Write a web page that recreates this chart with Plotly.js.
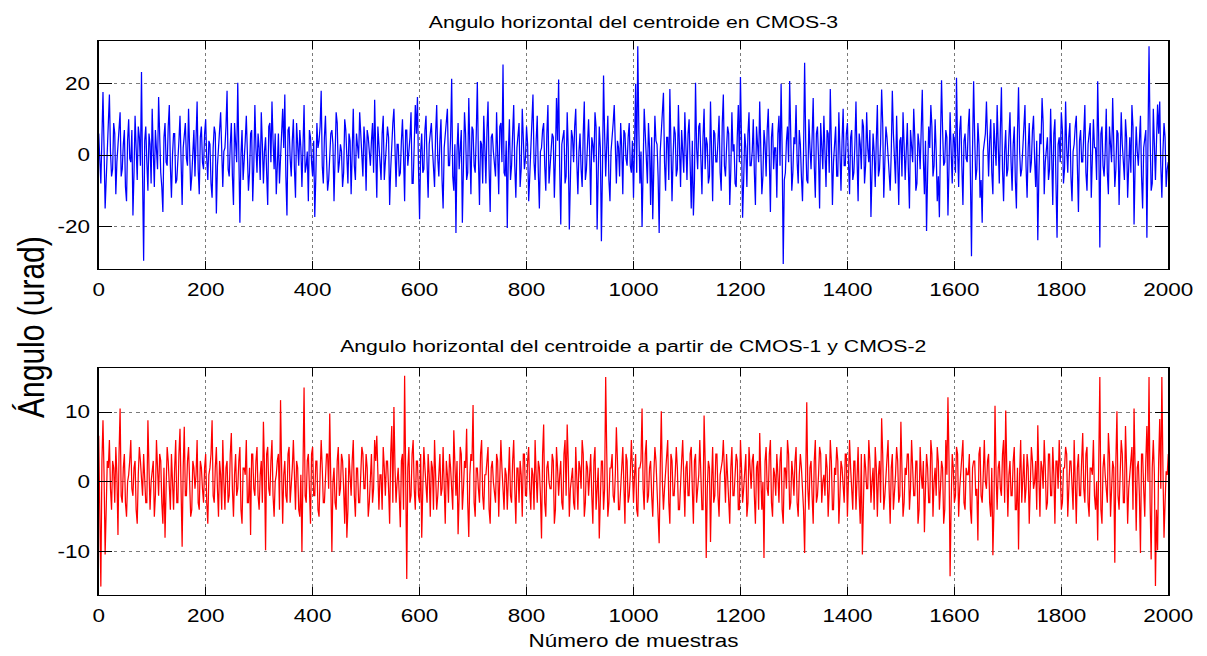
<!DOCTYPE html>
<html>
<head>
<meta charset="utf-8">
<script src="https://cdn.plot.ly/plotly-3.0.1.min.js"></script>
<style>
  html, body { margin: 0; padding: 0; background: #fff; overflow: hidden; }
  #wrap { width: 966px; height: 656px; transform: scaleX(1.2495); transform-origin: 0 0; }
  #chart { width: 966px; height: 656px; }
</style>
</head>
<body>
<div id="wrap"><div id="chart"></div></div>
<script>
// Samples between consecutive listed values
const sampleStep = 2;

// Angulo horizontal del centroide en CMOS-3 (urad): even samples (0, 4, 8, ...)
const cmos3Main = [
  6, -8, 17.7, -15, 4, 17, -6, 9, -11, 2, 12, -4, 7, -13, 10, -2, -17, 11, -7, 5, 23.3, -29.7, 8, -10, 3,
  13, -9, 1, 16.3, -5, -16, 9, -3, 14, -12, 6, -8, 2, 11, -14, 7, -1, 13, -10, 4, -6, 15, -11, 8, -4,
  10, -7, 3, -12, 8, -16.4, 5, 12, -9, 2, 18, -6, 9, -14, 4, 20.3, -19, 7, -3, 11, -10, 6, -13, 14, -5,
  2, 12, -8, 5, -14, 9, 15, -4, -11, 6, 1, 13, 17, -17, 8, -6, 10, -12, 3, 7, -9, 14, -3, -13, 5,
  -6, -17.4, 9, 4, 18, -8, 11, -10, 2, 7, -13, 12, -5, 3, -9, 10, -2, 6, -11, 13, -7, 1, 12, -4, 8,
  -10, 5, -3, 9, 15.5, -12, 4, -7, 11, -1, 8, -14, 6, 13, -9, 3, -5, 10, -13, 7, 0, 12, -8, 14, 16.3,
  -18, 6, -4, 11, -12, 8, 2, -9, 14, -6, 10, -15, 5, 13, -3, 21.4, -10, -21.9, 9, 4, -19, 12, -7, 16, -11,
  7, -5, 20.5, -14, 3, 11, -8, 15, -16, 6, -2, 12, -11, 9, 25.4, -6, -20.5, 10, -3, 14, -12, 5, -9, 13, -4,
  8, -13, 4, 17, -7, 11, -15, 2, 9, -10, 14, -3, 6, -12, 16, 21.2, -19.5, 5, -8, 12, -20.9, 7, -2, 13, -11,
  6, -9, 15, -4, 10, -14, 3, 12, -20.9, 8, -24.2, 22.3, -6, 11, -13, 4, 14, -8, 2, 9, -11, 6, -3, 9, -5,
  -12, 20, 30.5, -8, -20.2, 13, -5, 9, -14, -18, 11, 3, -21.9, 7, 17.5, -10, 5, 18.5, -13, 8, -6, 14, -9, 2, 12,
  -7, 10, -15, -17, 20.3, -4, 9, -11, 13, 5, -8, 15, -13, 6, -2, 11, -10, 17, -6, 8, -14, 12, 3, -9, 14,
  21.9, -17.6, 6, -9, 12, -3, 10, -14, 4, 15, -11, 7, -6, 13, -16, 9, 2, -12, 11, 20, -30.6, -5, 8, 20.8, -10,
  5, 14, -8, 3, -13, 25.9, -7, 10, -4, 16, -12, 8, -15, 2, 11, -9, 6, 18.5, -14, 4, -6, 12, -10, 13, -3,
  9, -11, 7, -5, 15, -13, 3, 10, -8, 12, -2, -17.4, 6, -9, 14, -4, 18.4, -12, 8, 1, -10, 18, -6, 11, -14,
  5, 12, -7, 9, -15, 3, 13, -10, 6, -4, 18.3, -11, -21.3, 8, 14, -6, 10, -13, -17.5, 21, -3, 7, -17, 12, -8,
  4, 21.7, -9, 11, -14, 6, -2, 13, -28.4, 20.7, -7, 9, -12, -19, 5, 15, -6, 10, -11, 3, 14, -8, 19, -13, 7,
  -4, 12, -10, 8, -15, 19, -6, 3, 14, -12, 9, -2, 11, -9, -23.9, 6, 16, -11, 4, -7, 13, -14, 10, -23.2, 5,
  12, -8, 15, -5, 9, -13, 3, 11, -16, 7, -2, 14, -10, 6, -12, 10, 2, 20.7, -26, 8, -6, 13, -11, 4, 16,
  -9, 7, -14, 12, -4, 10, -12, 5, 14, -19.5, 8, -3, 11, -15, 6, -23.2, 30.5, -10, 13, -7, 14.2, 15, -12, 9, -9, -2
];
// CMOS-3: in-between samples (2, 6, 10, ...)
const cmos3Mid = [
  -3, 5, 2, -7, 9, 1, -4, 6, -2, 8, -6, 3, -9, 4, -1, 7, -5, 2, 8, -3, -6, 4, -2, 6, -8,
  1, 7, -4, 3, -9, 5, -2, 8, -3, 0, 6, -7, 4, -5, 2, 9, -3, 1, -6, 7, 3, -4, 5, -2, 6,
  -1, 4, -8, 2, 6, -3, 7, -5, 1, 8, -4, 3, -6, 9, -2, 5, 0, -7, 4, 1, -5, 7, -3, 2, 6,
  -7, 3, 1, -5, 8, -2, 4, 6, -3, -8, 5, 2, -6, 7, -1, 4, -4, 9, -3, 2, 6, -5, 1, 7, -2,
  4, -6, 2, 8, -3, 5, -1, -7, 6, 3, -4, 9, -2, 1, -5, 7, -8, 4, 2, -3, 6, -1, 5, -6, 3,
  7, -2, 4, -5, 1, 8, -3, 6, -7, 2, 5, -4, 9, -1, 3, -6, 4, 0, 7, -3, 5, -8, 2, 6, -4,
  1, -5, 7, -2, 3, 9, -4, 6, -1, 4, -7, 2, 8, -3, 5, -6, 3, 1, -4, 7, -2, 6, -5, 2, 8,
  -3, 6, -1, 4, -8, 2, 7, -4, 5, 1, -6, 3, 8, -2, -5, 4, 1, -7, 6, -3, 2, 9, -4, 5, -1,
  3, -6, 8, -2, 4, -5, 1, 7, -3, 6, -8, 2, 5, -1, 4, -4, 3, 7, -6, 2, -3, 5, 8, -2, 1,
  -4, 6, -7, 3, 1, 5, -2, 8, -5, 2, -4, 6, 3, -7, 1, 9, -3, 4, -6, 2, 7, -1, 5, -3, 4,
  3, -5, 7, 1, -4, 6, -8, 2, 5, -3, 4, -6, 1, 8, -2, 5, -7, 3, -1, 6, -4, 2, 7, -5, 0,
  6, -3, 4, -7, 2, 8, -1, 5, -4, 3, -6, 1, 7, -2, 4, -5, 9, -3, 2, 6, -4, 1, -8, 5, -2,
  4, -7, 2, 6, -3, 1, -5, 8, -2, 4, -6, 3, 7, -1, 5, -4, 2, 6, -3, 1, -7, 4, -2, 6, -5,
  3, -2, 7, -6, 1, 4, -8, 2, 5, -3, 6, -1, 9, -4, 2, 7, -5, 3, -2, 8, -6, 1, 4, -3, 6,
  -2, 5, -7, 3, -1, 6, -4, 8, -3, 2, 7, -5, 1, 4, -6, 3, 9, -2, 5, -4, 1, 6, -8, 2, 4,
  -6, 3, 1, -4, 7, -2, 5, -8, 3, 6, -1, 4, -5, 2, 8, -3, 1, -6, 4, 7, -2, 5, -3, 1, 6,
  -5, 2, 7, -3, 4, -1, 8, -6, 2, 5, -4, 3, -7, 1, 6, -2, 4, -5, 9, -3, 2, 7, -4, 1, -6,
  5, -2, 3, -7, 6, 1, -4, 8, -3, 2, -5, 7, -1, 4, -6, 3, 9, -2, 5, -4, 1, 6, -8, 3, -2,
  7, -4, 2, 5, -6, 1, 8, -3, 4, -2, 6, -5, 3, 9, -1, 2, -7, 4, 6, -3, 1, -5, 8, -2, 3,
  -4, 6, -1, 3, -7, 5, 2, -5, 8, -3, 1, 4, -6, 2, 7, -2, 5, -8, 3, 4, 6, -3, 1, 5, -4
];

// Angulo horizontal del centroide a partir de CMOS-1 y CMOS-2 (urad): even samples
const cmos12Main = [
  6.6, -15, 8.8, -10.4, 3, 6, -4, 2, 5, -7.6, 10.5, -3, 4, -5, 1, 6, -2, 3, -6, 5, -1, 4, -3, 8.8, -4,
  2, -5, 6, -2, 3, -6, -8, 5, -1, 4, -4, 6, -3, 7.6, -9.3, 7.9, -2, 5, -5, 3, -1, 6, -4, 2, -3,
  4, -6, 2, 8.8, -3, 5, -5, 1, 6, -4, 3, -2, 7, -5, 4, -1, 5, -6, 2, 6, -3, -7.6, 4, -2, 5,
  -4, 3, 8.6, -9.8, 5, -2, 6, -5, 1, 4, 11.7, -6, 3, -3, 5, -1, 6, -4, 2, -5, -10, 13.5, -3, 4, -6,
  5, -2, 3, -5, 6, -3, 1, 4, 9.8, -10, 2, -4, 5, -1, 3, -6, -8, 4, -2, 6, -5, 2, -3, 5, -1,
  4, -5, 2, -3, 6, 6.6, -4, 1, 5, -2, 3, -6, 8, 10.7, -3, 2, -6.5, 4, 15.2, -13.9, 5, -2, 6, -4, 3,
  -3, -8, 5, -1, 4, -5, 2, 6, -4, 3, -2, 5, -6, 1, 4, -3, 7.4, -2, -7.5, 5, -4, 3, 7.6, -7.9, 4,
  11, -5, 2, -3, 6, -4, 1, 5, -6, 3, -2, 4, -5, 6, -1, 2, -4, 5, -3, 6, -6, 2, 3, -5, 4,
  -2, 5, -4, 1, 6, -3, 2, -8.1, 8.2, -5, 3, -1, 4, -6, 5, -2, 3, -4, 6, 8.2, -5, 1, -3, 5, -4,
  2, 6, -5, 3, -2, 4, -6, 5, 1, -8.1, 3, -4, 15, -5, 2, 4, -3, 7.8, -4, 1, 5, -6, 3, -2, 6,
  -3, 4, -5, 2, 10.5, -4, 6, -2, 3, -5, 5, -1, -8.8, 10.1, -4, 2, 6, -6, 3, -2, 5, -4, 1, 6, -5,
  3, -2, 5, -6, 4, -1, 6, -4, 9.5, -10.9, 3, -8.6, 5, -2, 4, -5, 2, 6, -3, 1, -6, 5, -2, 4, -4,
  6, -3, 2, -5, 5, -1, 4, -6, 3, 7, -4, -10.9, 5, -2, 6, -5, 1, 4, -3, 5, -6, 2, 6, -4, 3,
  -2, 5, -5, 4, -1, -10.2, 11.4, -4, 3, -6, 6, -2, 5, -3, 1, 4, -5, 6, -4, 2, 5, -6, 3, -1, 4,
  -5, 6, -2, 3, -4, 5, -6, -10.4, 4, -1, 6, -3, 2, 5, -5, 3, 9.1, -4, 1, 6, -6, 4, -2, 5, -3,
  8.6, -5, 2, 4, -4, 6, -2, 3, -6, 5, -1, -7.2, 4, -3, 6, -5, 2, 5, -4, 3, -6, 6, 12.1, -13.5, 4,
  -3, 5, -5, 2, 6, -4, 1, 4, -6, 3, -2, -8.4, 5, -3, 6, -1, 4, -5, -10.5, 10.9, -4, 3, -2, 6, 10.2,
  -5, 3, -2, 5, -4, -9.7, 6, 1, -3, 4, -6, 5, -1, 3, 8.1, -5, 2, 6, -4, 4, -2, 5, -6, 3, 6,
  -4, 2, 5, -5, 3, -1, 6, -6, 4, -2, 7, -3, 5, -5, 2, 6, -4, -8.4, 15, -6, 4, -2, 7, -5, 3,
  -11.6, 10.1, -4, 6, -3, 8, -6, 2, 5, 10.5, -7, 3, -10.2, 4, -5, 8, 15, -11.1, 6, -14.9, -9.8, 9, 15, -8, 1.5, 4
];
// CMOS-1 y CMOS-2: in-between samples
const cmos12Mid = [
  -2, 3, 1, -4, 2, -1, 3, -3, 1, 4, -2, 2, -3, 0, 3, -1, 2, -4, 1, 3, -2, 1, -3, 2, 0,
  3, -2, 1, 4, -3, 2, -1, 3, -4, 1, 2, -3, 4, -1, 2, -2, 3, 0, -4, 2, 1, -3, 3, -1, 2,
  -3, 1, 4, -2, 2, -1, 3, -4, 0, 2, -3, 4, -1, 1, -2, 3, -4, 2, 1, -3, 2, 4, -1, 3, -2,
  1, -3, 2, 4, -1, 3, -2, 0, 3, -4, 2, 1, -2, 4, -3, 2, -1, 3, -4, 1, 2, -2, 3, -1, 4,
  -2, 3, -4, 1, 2, -3, 4, -1, 2, 0, -3, 3, -2, 4, -1, 2, -4, 1, 3, -2, 2, -3, 1, 4, -1,
  2, -3, 4, -1, 3, -2, 1, -4, 2, 3, -1, 4, -3, 2, 0, -2, 3, -4, 1, 2, -3, 4, -1, 3, -2,
  4, -1, 2, -3, 1, 3, -4, 2, -2, 4, -1, 0, 3, -3, 2, -4, 1, 3, -2, 4, -1, 2, -3, 1, 3,
  -3, 2, -1, 4, -2, 1, 3, -4, 2, 0, -3, 3, -1, 2, -4, 1, 4, -2, 3, -1, 2, -3, 1, 4, -2,
  3, -1, 2, -4, 1, 3, -2, 4, -3, 2, 0, -1, 3, -4, 2, 1, -3, 4, -2, 3, -1, 2, -4, 1, 3,
  -1, 4, -3, 2, 1, -2, 3, -4, 2, 0, 3, -1, 4, -3, 2, -2, 1, 3, -4, 2, -1, 4, -3, 1, 2,
  1, -4, 2, 3, -1, 4, -3, 2, -2, 1, 3, -4, 2, 0, -1, 3, -3, 4, -2, 1, 2, -4, 3, -1, 2,
  -2, 4, -1, 3, -3, 1, 2, -4, 3, -1, 2, 0, -3, 4, -2, 1, 3, -1, 4, -3, 2, -2, 1, 3, -4,
  2, -1, 4, -3, 1, 3, -2, 2, -4, 1, 0, 3, -1, 4, -3, 2, -2, 1, 3, -4, 2, -1, 4, -3, 1,
  3, -3, 1, 2, -4, 4, -1, 2, -2, 3, -3, 1, 4, 0, -2, 2, -1, 3, -4, 1, 3, -2, 2, -3, 4,
  -1, 2, -4, 3, 1, -2, 4, -3, 2, -1, 3, 0, -4, 2, 1, -3, 4, -2, 3, -1, 2, -4, 1, 3, -2,
  2, -3, 1, 4, -1, 2, -2, 3, -4, 1, 3, -1, 2, -3, 4, 0, -2, 3, -1, 2, -4, 1, 3, -3, 2,
  -2, 4, -1, 3, -3, 2, 1, -4, 2, 3, -1, 4, -2, 1, 0, 3, -3, 2, -4, 1, 2, -1, 4, -3, 2,
  1, -2, 3, -4, 2, 1, -3, 4, -1, 2, -2, 3, 0, -4, 1, 3, -1, 2, -3, 4, -2, 1, 3, -1, 2,
  -3, 2, 4, -1, 3, -4, 1, 2, -2, 3, -1, 4, -3, 2, 1, -2, 0, 3, -4, 2, 1, -3, 4, -1, 2,
  3, -2, 1, 4, -3, 2, -1, 3, -4, 1, 2, -2, 4, -1, 3, 0, -3, 2, 1, -4, 3, -1, 2, -3, 1
];

const xTickVals = [0, 200, 400, 600, 800, 1000, 1200, 1400, 1600, 1800, 2000];
const xTickText = ['0', '200', '400', '600', '800', '1000', '1200', '1400', '1600', '1800', '2000'];
const yTopTickVals = [-20, 0, 20];
const yTopTickText = ['-20', '0', '20'];
const yBotTickVals = [-10, 0, 10];
const yBotTickText = ['-10', '0', '10'];

const titles = {
  top: 'Angulo horizontal del centroide en CMOS-3',
  bottom: 'Angulo horizontal del centroide a partir de CMOS-1 y CMOS-2',
  x: 'Número de muestras',
  y: 'Ángulo (urad)'
};

// Merge the listed even and in-between samples into one series
function interleave(main, mid) {
  const out = [];
  main.forEach((v, i) => { out.push(v); if (i < mid.length) out.push(mid[i]); });
  return out;
}
const cmos3 = interleave(cmos3Main, cmos3Mid);
const cmos12 = interleave(cmos12Main, cmos12Mid);
const samplesTop = cmos3.map((_, i) => i * sampleStep);
const samplesBot = cmos12.map((_, i) => i * sampleStep);

const FONT = 'Arial, "Liberation Sans", Helvetica, sans-serif';

const traces = [
  { x: samplesTop, y: cmos3, type: 'scatter', mode: 'lines', xaxis: 'x', yaxis: 'y',
    line: { color: '#0000ff', width: 1 }, hoverinfo: 'skip' },
  { x: samplesBot, y: cmos12, type: 'scatter', mode: 'lines', xaxis: 'x2', yaxis: 'y2',
    line: { color: '#ff0000', width: 1 }, hoverinfo: 'skip' }
];

function xAxis(anchor) {
  return {
    anchor: anchor, range: [0, 2000], tickvals: xTickVals, ticktext: xTickText,
    showline: true, linecolor: '#000', linewidth: 1.3, mirror: 'ticks',
    ticks: 'inside', ticklen: 8, tickcolor: '#000', tickwidth: 1,
    showgrid: true, gridcolor: '#7a7a7a', griddash: 'dot', gridwidth: 1,
    zeroline: false, tickfont: { family: FONT, size: 18, color: '#000' },
    ticklabelstandoff: 4
  };
}
function yAxis(anchor, domain, range, vals, text) {
  return {
    anchor: anchor, domain: domain, range: range, tickvals: vals, ticktext: text,
    showline: true, linecolor: '#000', linewidth: 1.3, mirror: 'ticks',
    ticks: 'inside', ticklen: 11, tickcolor: '#000', tickwidth: 1,
    showgrid: true, gridcolor: '#7a7a7a', griddash: 'dot', gridwidth: 1,
    zeroline: false, tickfont: { family: FONT, size: 18, color: '#000' },
    ticklabelstandoff: 2
  };
}

const H = 656;
const layout = {
  width: 966, height: H,
  margin: { l: 79, r: 31, t: 0, b: 0, pad: 0 },
  paper_bgcolor: '#fff', plot_bgcolor: '#fff',
  showlegend: false,
  xaxis: xAxis('y'),
  yaxis: yAxis('x', [1 - 269 / H, 1 - 41 / H], [-32, 32], yTopTickVals, yTopTickText),
  xaxis2: xAxis('y2'),
  yaxis2: yAxis('x2', [1 - 595 / H, 1 - 368 / H], [-16.2, 16.3], yBotTickVals, yBotTickText),
  annotations: [
    { text: titles.top, xref: 'paper', yref: 'paper', x: 0.5, y: 1 - 22 / H, xanchor: 'center', yanchor: 'middle',
      showarrow: false, font: { family: FONT, size: 17, color: '#000' } },
    { text: titles.bottom, xref: 'paper', yref: 'paper', x: 0.5, y: 1 - 346 / H, xanchor: 'center', yanchor: 'middle',
      showarrow: false, font: { family: FONT, size: 17, color: '#000' } },
    { text: titles.x, xref: 'paper', yref: 'paper', x: 0.5, y: 1 - 641 / H, xanchor: 'center', yanchor: 'middle',
      showarrow: false, font: { family: FONT, size: 18, color: '#000' } },
    { text: titles.y, xref: 'paper', yref: 'paper', x: (24 - 79) / 856, y: 1 - 327 / H, xanchor: 'center', yanchor: 'middle',
      textangle: -90, showarrow: false, font: { family: FONT, size: 30, color: '#000' } }
  ]
};

Plotly.newPlot('chart', traces, layout, { staticPlot: true, displayModeBar: false });
</script>
</body>
</html>
